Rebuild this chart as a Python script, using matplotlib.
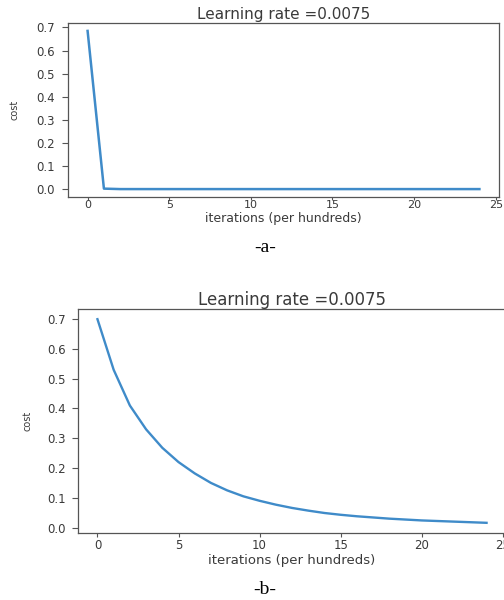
import matplotlib
matplotlib.use("Agg")
import matplotlib.pyplot as plt
import numpy as np

# Data
iters_a = list(range(25))
cost_a = [0.685, 0.003] + [0.001] * 23
iters_b = list(range(25))
cost_b = [0.700, 0.530, 0.410, 0.330, 0.268, 0.220, 0.182, 0.150, 0.125, 0.105,
          0.090, 0.077, 0.066, 0.057, 0.049, 0.043, 0.038, 0.034, 0.030, 0.027,
          0.024, 0.022, 0.020, 0.018, 0.016]
xticks = [0, 5, 10, 15, 20, 25]
yticks = [0.0, 0.1, 0.2, 0.3, 0.4, 0.5, 0.6, 0.7]
title = "Learning rate =0.0075"
xlabel = "iterations (per hundreds)"
ylabel = "cost"

W, H = 504, 600
fig = plt.figure(figsize=(W / 100, H / 100), dpi=100)
fig.patch.set_facecolor("white")

txt = "#3a3a3a"
line_c = "#3f8bc9"

def px(l, t, r, b):
    return [l / W, 1 - b / H, (r - l) / W, (b - t) / H]

def style(ax, fs_xtick, fs_ytick, fs_lab, fs_title, ylen, ypad, xlen, xpad,
          ylab_x, xlab_y):
    ax.set_xticks(xticks)
    ax.set_yticks(yticks)
    ax.set_xticklabels([str(v) for v in xticks])
    ax.set_yticklabels([f"{v:.1f}" for v in yticks])
    ax.tick_params(colors="#555555", labelcolor=txt, width=0.8)
    ax.tick_params(axis="y", length=ylen, pad=ypad, labelsize=fs_ytick)
    ax.tick_params(axis="x", length=xlen, pad=xpad, labelsize=fs_xtick)
    for s in ax.spines.values():
        s.set_color("#555555")
        s.set_linewidth(0.9)
    ax.set_title(title, fontsize=fs_title, color=txt, pad=3)
    ax.set_xlabel(xlabel, fontsize=fs_lab, color=txt, va="center")
    ax.xaxis.set_label_coords(0.5, xlab_y)
    ax.set_ylabel(ylabel, fontsize=7, color=txt, va="center")
    ax.yaxis.set_label_coords(ylab_x, 0.5)

ax1 = fig.add_axes(px(68, 23, 499, 197))
ax1.plot(iters_a, cost_a, color=line_c, lw=1.8)
style(ax1, 8, 8.5, 9, 11, 4.5, 5, 2, 0.5, -0.124, -0.122)

ax2 = fig.add_axes(px(78, 309, 506, 533))
ax2.plot(iters_b, cost_b, color=line_c, lw=1.7)
style(ax2, 8.5, 8.5, 9.5, 12, 4, 4.5, 3, 1.5, -0.117, -0.122)

fig.text(265 / W, 1 - 247 / H, "-a-", family="Liberation Serif", fontsize=14,
         ha="center", va="center", color="black")
fig.text(265 / W, 1 - 590 / H, "-b-", family="Liberation Serif", fontsize=14,
         ha="center", va="center", color="black")

fig.savefig("out.png", dpi=100, facecolor="white")
